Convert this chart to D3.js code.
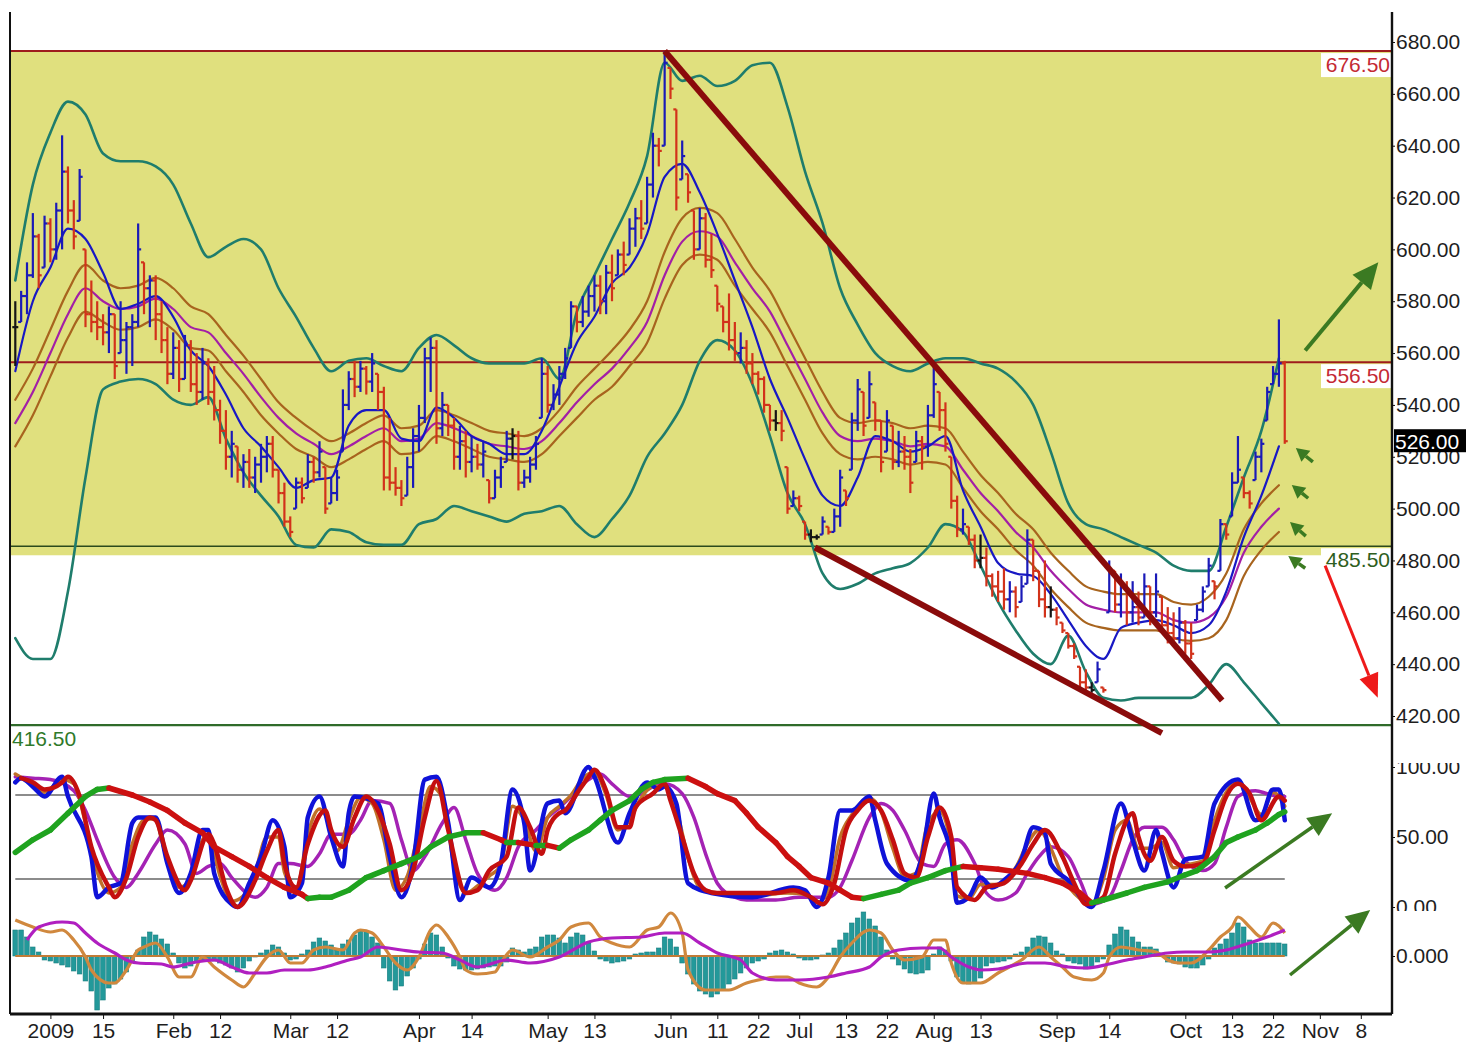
<!DOCTYPE html>
<html>
<head>
<meta charset="utf-8">
<script src="https://cdn.jsdelivr.net/npm/d3@7"></script>
<style>
  body { margin: 0; background: #fff; }
  svg text { font-family: "Liberation Sans", Arial, sans-serif; }
</style>
</head>
<body>
<div id="chart"></div>
<script>
// ---------------- data ----------------
const baseDate = "2009-01-02";          // trading index 0
const firstBarDate = "2008-12-24";
const holidays = ["2009-01-01"];

const barHigh = [
  580,584,595,614,606,613,612,618,644,632,619,631,
  600,588,580,575,578,575,580,572,575,610,595,590,
  590,580,570,568,565,567,565,560,562,558,555,542,
  538,530,524,521,523,520,525,528,528,515,510,497,
  512,512,521,520,526,516,512,515,546,553,557,557,
  555,560,552,547,535,516,511,520,531,540,562,566,
  565,545,540,535,532,530,528,525,526,511,515,520,
  530,531,530,515,520,528,558,555,548,555,562,580,
  578,582,586,590,590,594,598,600,603,612,616,619,
  628,645,643,676.5,670,654,642,629,615,616,614,606,
  586,578,583,572,568,565,560,553,551,540,538,538,
  516,507,505,495,492,490,497,493,500,515,507,537,
  550,545,553,541,534,538,532,530,528,523,530,528,
  540,556,545,541,520,505,500,493,490,490,485,475,
  476,477,472,470,474,492,488,476,480,470,462,456,
  452,448,439,438,433,441,431,480,476,475,472,472,
  468,475,470,475,466,462,460,462,457,456,463,470,
  481,472,496,494,514,528,512,507,522,527,547,555,
  573,557];
const barLow = [
  555,572,575,589,585,593,595,596,600,610,600,611,
  570,568,565,563,560,550,560,552,555,570,575,570,
  565,560,548,550,545,550,545,540,542,540,534,525,
  515,512,510,508,508,506,510,514,512,502,493,489,
  500,502,508,510,512,498,502,503,522,538,543,545,
  544,545,538,507,507,505,501,505,508,522,533,545,
  525,528,528,515,515,512,514,515,512,502,504,508,
  518,519,507,508,510,515,535,537,538,540,550,562,
  568,570,574,576,575,575,580,590,590,598,601,604,
  610,620,632,640,658,615,627,618,596,600,593,589,
  576,568,561,557,556,552,548,544,537,530,530,526,
  498,501,499,488,487,488,490,490,491,493,501,515,
  530,528,535,530,514,522,515,516,515,506,518,515,
  520,535,530,522,500,489,490,486,477,477,470,466,
  464,461,460,458,464,471,472,462,458,458,455,452,
  446,442,431,430,429,433,429,460,460,458,455,456,
  455,458,455,458,452,448,447,448,444,442,457,460,
  470,465,476,488,497,510,504,500,511,514,534,548,
  547,525];
const barClose = [
  570,582,590,605,590,610,600,615,630,615,605,628,
  575,572,570,568,575,555,565,570,572,600,585,588,
  575,565,552,562,550,563,548,545,556,545,538,530,
  520,525,515,518,512,517,520,525,515,506,495,491,
  510,504,518,514,522,500,506,512,540,550,547,554,
  549,556,545,512,510,508,504,516,528,535,558,562,
  531,540,532,520,526,518,520,517,522,504,512,516,
  527,528,510,512,517,525,552,540,544,552,558,578,
  572,576,582,586,580,591,585,598,594,608,612,608,
  625,640,638,672,662,620,636,622,600,612,596,592,
  579,572,565,560,562,556,552,550,540,534,533,530,
  500,504,501,490,489,489,495,491,497,512,504,534,
  546,532,548,534,518,534,518,522,520,510,526,524,
  536,548,538,525,503,492,494,488,480,481,474,470,
  468,465,468,462,470,488,476,465,462,461,458,453,
  447,443,433,431,430,438,430,476,463,470,460,462,
  458,470,460,468,455,452,450,456,448,444,461,468,
  478,470,494,490,510,515,506,502,520,525,545,552,
  556,526];

// overlay lines, one value every 3 trading days from lineStartDate
const lineStartDate = "2008-12-24";
const lineStep = 3;
const maFast = [553,580,593,608,604,591,577,579,582,574,561,555,544,531,524,516,508,511,512,532,
  538,538,527,526,539,535,528,525,521,521,530,547,564,574,587,593,606,628,633,622,
  606,588,570,550,535,519,505,501,512,528,526,522,524,528,507,493,479,475,474,467,
  457,447,442,454,456,457,455,452,455,468,489,505,524];
const maMid = [533,545,560,575,585,580,577,578,581,577,570,568,560,552,543,535,529,525,521,524,
  528,531,526,527,533,531,528,525,524,523,526,533,541,548,554,562,572,590,603,607,
  605,595,585,576,563,550,537,528,526,527,526,524,525,524,515,506,499,491,485,476,
  469,463,461,460,460,460,457,456,458,466,483,493,500];
const envUpper = [542,554,569,584,594,588,585,586,589,585,578,575,567,559,550,541,535,530,526,529,
  533,536,531,532,538,536,533,530,529,528,531,538,547,554,561,569,580,599,612,616,
  614,604,593,584,571,558,545,535,533,534,533,531,532,531,522,513,506,498,492,483,
  476,470,468,467,467,467,464,463,466,475,492,502,509];
const envLower = [524,536,551,566,576,572,569,570,573,569,562,561,553,545,536,529,523,520,516,519,
  523,526,521,522,528,526,523,520,519,518,521,528,535,542,547,555,564,581,594,598,
  596,586,577,568,555,542,529,521,519,520,519,517,518,517,508,499,492,484,478,469,
  462,456,454,453,453,453,450,449,450,457,474,484,491];
const bollUpper = [588,625,645,657,652,637,634,634,632,625,610,597,601,604,600,585,574,562,553,557,
  558,555,553,562,567,563,558,556,556,556,558,550,576,590,604,618,636,672,665,667,
  663,665,671,672,655,630,610,585,571,560,555,553,556,558,558,556,554,549,540,522,
  502,494,492,489,486,483,478,476,476,493,512,530,558];
const bollLower = [450,442,442,468,512,546,549,550,548,542,540,543,527,514,505,497,486,485,492,491,
  487,486,486,494,496,501,499,497,495,498,499,501,494,489,496,505,520,529,540,557,
  565,561,548,528,506,494,475,469,471,475,477,479,485,494,491,478,464,453,444,440,
  451,437,427,426,427,427,427,427,432,440,433,425,417];

// stochastic panel: [trading index, value]
const stochBlue = [[-6,89],[-5,92],[-3,86],[-1,79],[2,93],[3,79],[7,36],[8,7],[10,14],[12,17],[14,60],[15,64],
  [18,64],[20,31],[22,10],[24,24],[26,55],[27,55],[28,24],[31,2],[32,0],[34,17],[36,36],[38,62],[40,43],[41,7],
  [43,17],[44,64],[46,79],[48,50],[50,29],[51,67],[52,79],[56,74],[58,36],[60,7],[62,31],[64,91],[66,93],[68,60],
  [70,5],[72,21],[75,14],[77,31],[79,84],[81,60],[82,26],[85,74],[87,76],[88,67],[92,100],[93,93],[97,46],[99,67],
  [102,89],[104,84],[105,86],[107,74],[109,17],[113,10],[120,7],[127,14],[129,12],[131,0],[133,21],[135,69],
  [137,69],[140,79],[141,62],[143,31],[147,19],[149,36],[151,81],[152,64],[154,36],[155,3],[157,7],[159,21],
  [161,14],[163,19],[166,34],[168,57],[170,53],[171,31],[174,19],[178,0],[180,26],[183,74],[185,48],[187,26],
  [189,55],[190,39],[192,14],[194,34],[197,36],[199,74],[203,91],[206,62],[207,64],[209,84],[210,84],[211,62]];
const stochBrown = [[-6,95],[-4,90],[-1,82],[2,91],[4,88],[6,60],[8,25],[10,10],[12,14],[14,45],[16,62],[18,63],
  [19,48],[22,14],[24,20],[26,48],[27,52],[29,22],[31,4],[33,8],[35,25],[37,50],[39,50],[40,25],[42,12],[44,52],
  [46,70],[48,55],[49,40],[51,62],[53,78],[55,74],[57,48],[59,12],[61,22],[63,55],[65,86],[67,78],[69,30],[71,10],
  [73,15],[75,22],[77,30],[79,72],[81,62],[83,40],[85,64],[87,72],[89,80],[91,92],[93,96],[95,80],[97,55],[99,62],
  [101,78],[103,86],[105,86],[107,70],[109,35],[111,14],[114,10],[120,8],[126,10],[129,9],[131,3],[133,12],
  [135,50],[137,66],[140,78],[142,68],[144,42],[146,22],[148,24],[150,60],[152,68],[154,42],[155,8],[157,6],
  [159,16],[162,16],[165,28],[167,45],[169,55],[171,42],[173,22],[176,6],[178,2],[180,20],[182,55],[184,62],
  [186,42],[188,42],[190,46],[192,28],[194,30],[197,33],[199,62],[201,82],[203,90],[205,78],[207,66],[209,82],[211,72]];
const stochRed = [[-5,92],[-3,89],[-1,84],[2,89],[3,93],[5,79],[7,43],[10,14],[11,7],[13,21],[15,50],[17,64],
  [18,62],[20,36],[23,12],[24,19],[27,52],[28,45],[30,14],[32,0],[35,19],[37,40],[39,55],[40,31],[42,14],[44,45],
  [47,69],[48,55],[50,43],[52,64],[54,79],[56,69],[58,45],[60,12],[62,26],[64,64],[66,90],[68,55],[71,10],[73,12],
  [75,26],[78,36],[80,71],[82,57],[84,38],[85,55],[87,67],[88,69],[90,81],[92,93],[93,98],[95,83],[97,57],[99,57],
  [100,71],[103,81],[105,88],[106,76],[108,50],[110,24],[112,12],[114,10],[119,10],[124,10],[127,12],[130,7],
  [132,2],[134,17],[136,55],[138,69],[140,76],[142,69],[144,48],[146,24],[148,21],[150,50],[152,71],[154,50],
  [155,14],[158,5],[160,14],[163,17],[166,31],[168,45],[170,55],[173,36],[175,17],[177,2],[180,7],[182,38],
  [185,67],[186,50],[188,33],[190,50],[192,33],[194,29],[197,31],[199,55],[201,79],[203,88],[205,81],[207,62],
  [210,79],[211,76]];
const stochPurple = [[-6,93],[-3,92],[0,91],[4,83],[6,69],[8,48],[11,21],[13,14],[15,24],[18,45],[20,55],[23,45],
  [25,24],[27,29],[29,31],[31,21],[35,7],[37,14],[39,31],[41,31],[44,29],[46,38],[48,52],[51,52],[53,62],[55,76],
  [58,74],[60,48],[62,26],[64,36],[67,60],[69,71],[71,48],[73,24],[76,12],[78,21],[80,43],[83,55],[85,64],[87,71],
  [89,79],[92,91],[94,95],[96,88],[99,79],[101,81],[103,86],[105,88],[108,81],[110,64],[112,38],[114,17],[117,7],
  [119,5],[124,5],[128,7],[133,7],[135,14],[137,33],[140,64],[142,74],[144,69],[146,55],[149,31],[151,29],[153,45],
  [155,48],[158,31],[160,10],[162,5],[165,10],[167,24],[169,36],[171,43],[174,36],[176,19],[178,2],[181,7],
  [183,26],[185,48],[187,57],[190,57],[192,48],[194,33],[197,26],[199,31],[201,57],[203,79],[206,83],[208,81],
  [210,79],[211,79]];
const stochSlow = [[-6,39],[-3,48],[0,55],[3,67],[6,79],[8,84],[10,85],[14,80],[17,75],[20,69],[23,60],[26,53],
  [28,43],[31,36],[34,29],[37,21],[40,14],[43,9],[44,6],[46,7],[48,7],[51,12],[54,21],[57,26],[60,31],[63,36],
  [65,43],[68,50],[71,53],[74,53],[77,48],[78,46],[80,46],[83,44],[85,44],[87,42],[89,48],[92,55],[94,62],[96,69],
  [99,76],[101,84],[103,89],[105,91],[109,92],[112,86],[114,81],[117,76],[119,67],[121,57],[124,46],[126,36],
  [128,29],[130,21],[133,17],[135,12],[137,7],[139,6],[142,9],[145,12],[147,17],[150,21],[153,26],[156,29],
  [159,28],[162,27],[167,24],[170,21],[173,17],[176,10],[178,3],[180,5],[184,10],[187,14],[191,18],[194,23],
  [196,26],[199,36],[201,46],[203,50],[206,55],[208,60],[210,66],[211,68]];
const stochBands = [20, 80];

// MACD panel
const macdHist = [
  2.6,2.6,1.9,0.9,0.4,-0.4,-0.5,-0.7,-0.9,-1.1,-1.5,-1.8,
  -2.5,-3.5,-5.4,-4.4,-3.2,-2.8,-2.3,-1.6,-0.6,0.6,1.9,2.4,
  2.1,1.7,1.2,0.3,-0.7,-1.2,-1.0,-0.6,-0.4,-0.4,-0.5,-0.7,
  -0.9,-1.2,-1.6,-1.2,-0.5,-0.1,0.3,0.6,1.1,0.9,0.3,-0.4,
  -0.3,0.2,0.6,1.4,1.8,1.5,1.1,0.6,1.2,1.6,2.1,2.6,
  2.5,1.9,1.3,-1.2,-2.5,-3.4,-3.0,-2.0,-1.2,-0.3,1.2,2.3,
  2.1,0.9,-0.2,-1.0,-1.3,-1.4,-1.4,-1.3,-1.2,-1.1,-1.0,-1.0,
  -0.6,0.8,0.6,0.4,0.7,0.9,1.9,2.1,2.1,1.8,1.3,1.9,
  2.3,2.1,1.3,0.5,-0.3,-0.5,-0.7,-0.6,-0.5,-0.3,0.2,0.3,
  0.4,0.4,0.8,1.9,1.7,0.9,-0.7,-1.8,-2.8,-3.5,-3.8,-4.1,
  -3.8,-3.4,-2.8,-2.3,-1.7,-1.2,-0.7,-0.5,-0.3,0.3,0.5,0.6,
  0.4,0.2,-0.2,-0.4,-0.4,-0.3,0.1,0.3,0.8,1.6,2.3,3.3,
  3.8,4.4,3.7,3.0,1.9,0.6,-0.3,-0.9,-1.3,-1.7,-1.8,-1.7,
  -1.4,0.2,0.9,0.6,-0.5,-2.1,-2.7,-2.8,-2.6,-2.2,-1.0,-0.7,
  -0.6,-0.5,-0.3,0.2,0.4,0.9,1.8,2.0,1.9,1.3,0.5,0.2,
  -0.5,-0.7,-0.8,-1.3,-1.2,-0.6,-0.3,1.1,2.2,2.9,2.6,1.9,
  1.4,0.9,0.9,0.7,0.3,-0.6,-0.7,-0.8,-1.1,-1.2,-1.2,-0.9,
  -0.3,0.8,1.2,1.7,2.3,3.3,2.9,1.6,1.3,1.3,1.3,1.3,
  1.3,1.2];
const macdLine = [[-6,3.6],[-3,2.9],[0,2.4],[2,2.6],[4,1.6],[6,-0.1],[7,-1.4],[10,-2.7],[11,-2.7],[13,-1.4],
  [15,0.6],[16,0.9],[18,1.3],[20,-0.1],[22,-2.1],[24,-2.1],[26,-0.1],[28,-1.1],[31,-2.4],[33,-3.1],[35,-1.7],
  [37,-0.1],[39,0.6],[41,-0.7],[43,-0.7],[45,0.6],[47,0.9],[50,0.6],[52,2.3],[53,2.6],[55,2.3],[57,0.9],[59,-0.7],
  [61,-1.4],[63,-0.1],[65,2.6],[66,3.1],[68,1.9],[70,-0.1],[71,-1.4],[73,-1.8],[76,-1.6],[77,-0.7],[79,0.6],
  [82,-0.1],[85,0.9],[87,1.6],[89,2.9],[92,3.3],[94,1.9],[96,1.3],[99,0.9],[102,2.6],[104,2.9],[106,4.3],[108,2.3],
  [109,-1.4],[112,-3.4],[116,-3.4],[119,-2.7],[121,-2.4],[124,-2.1],[126,-2.1],[128,-2.7],[131,-3.1],[133,-2.1],
  [135,-0.1],[137,1.3],[140,2.6],[142,2.3],[144,0.6],[146,-0.4],[149,-0.1],[151,1.6],[153,1.6],[154,-0.7],
  [156,-2.7],[159,-2.7],[162,-1.7],[166,-0.4],[169,0.9],[171,-0.1],[173,-1.1],[175,-2.1],[178,-2.4],[180,-1.7],
  [181,-0.1],[183,0.9],[186,0.6],[189,0.4],[191,-0.4],[193,-0.7],[195,-0.7],[198,0.6],[200,1.9],[202,2.9],
  [203,3.9],[205,2.9],[207,1.9],[209,3.3],[210,3.0],[211,2.3]];
const macdSignal = [[-4,1.6],[-2,2.9],[2,3.4],[4,3.3],[6,2.3],[8,1.3],[11,0.3],[13,-0.4],[15,-0.7],[19,-0.8],
  [21,-1.1],[24,-0.7],[28,-0.4],[31,-1.1],[34,-1.7],[37,-1.7],[40,-1.4],[44,-1.4],[47,-1.1],[51,-0.4],[53,-0.1],
  [56,0.9],[60,0.6],[63,0.4],[67,0.3],[70,-0.4],[73,-1.1],[78,-0.4],[82,-0.7],[87,-0.1],[92,1.4],[96,1.8],
  [101,1.9],[105,2.3],[108,2.3],[111,1.3],[114,0.3],[118,-0.4],[120,-1.7],[124,-2.4],[128,-2.4],[133,-2.1],
  [136,-1.7],[140,-1.1],[142,-0.1],[145,0.6],[149,0.8],[152,0.8],[154,-0.1],[157,-1.1],[159,-1.4],[162,-1.3],
  [167,-0.7],[170,-0.7],[174,-1.1],[177,-1.2],[181,-0.8],[184,-0.4],[187,-0.1],[191,0.3],[194,0.4],[198,0.4],
  [201,0.6],[205,1.3],[208,1.9],[211,2.6]];

// axes, levels and annotations
const priceTicks = [420,440,460,480,500,520,540,560,580,600,620,640,660,680];
const stochTicks = [0, 50, 100];
const macdTicks = [0];
const dateTicks = [
  ["2009-01-02","2009"],["2009-01-15","15"],["2009-02-02","Feb"],["2009-02-12","12"],
  ["2009-03-02","Mar"],["2009-03-12","12"],["2009-04-01","Apr"],["2009-04-14","14"],
  ["2009-05-01","May"],["2009-05-13","13"],["2009-06-01","Jun"],["2009-06-11","11"],
  ["2009-06-22","22"],["2009-07-01","Jul"],["2009-07-13","13"],["2009-07-22","22"],
  ["2009-08-03","Aug"],["2009-08-13","13"],["2009-09-01","Sep"],["2009-09-14","14"],
  ["2009-10-01","Oct"],["2009-10-13","13"],["2009-10-22","22"],["2009-11-01","Nov"],["2009-11-08","8"]];
const zoneRange = [482, 676.5];
const levelValues = [676.5, 556.5, 485.5, 416.5];
const lastPrice = 526;
const trendLines = [[[105, 676.5], [200.3, 426]], [[130.7, 485], [190, 413.4]]];
const priceArrows = [
  {kind: "big", from: [214.5, 561], to: [227, 595]},
  {kind: "down", from: [217.9, 478], to: [226.9, 427]},
  {kind: "small", from: [215.8, 518], to: [212.9, 523.4]},
  {kind: "small", from: [215.0, 504], to: [212.2, 509.1]},
  {kind: "small", from: [214.6, 489.4], to: [211.9, 494.8]},
  {kind: "small", from: [214.5, 477], to: [211.6, 481.7]}];
const stochArrow = {from: [200.8, 13.6], to: [219.1, 67]};
const macdArrow = {from: [211.9, -1.9], to: [225.6, 4.6]};

// ---------------- helpers ----------------
const DAY = 86400000;
const holidayTimes = new Set(holidays.map(s => Date.parse(s + "T00:00:00Z")));
const isTradingDay = t => {
  const wd = new Date(t).getUTCDay();
  return wd !== 0 && wd !== 6 && !holidayTimes.has(t);
};
function tradingIndex(s) {
  // signed count of trading days between baseDate and s
  const b = Date.parse(baseDate + "T00:00:00Z"), d = Date.parse(s + "T00:00:00Z");
  const lo = Math.min(b, d), hi = Math.max(b, d);
  let n = 0;
  for (let t = lo; t < hi; t += DAY) if (isTradingDay(t)) n++;
  return d < b ? -n : n;
}
function dateOfIndex(n) {
  let t = Date.parse(baseDate + "T00:00:00Z"), k = 0;
  while (k < n) { t += DAY; if (isTradingDay(t)) k++; }
  return t;
}

const W = 1469, H = 1043;
const plotL = 10, plotR = 1392, plotTop = 12, axisY = 1014, priceBottom = 725;

const x = d3.scaleLinear().domain([0, 200]).range([50.4, 1220.4]);
const yP = d3.scaleLinear().domain([420, 680]).range([716, 42]);
const yS = d3.scaleLinear().domain([0, 100]).range([907, 767]);
const yM = d3.scaleLinear().domain([-5, 5]).range([1006, 906]);

const bar0 = tradingIndex(firstBarDate);
const line0 = tradingIndex(lineStartDate);
const bars = barClose.map((c, i) => ({
  i: bar0 + i, h: barHigh[i], l: barLow[i], c: c,
  o: Math.max(barLow[i], Math.min(barHigh[i], i > 0 ? barClose[i - 1] : c)),
  prev: i > 0 ? barClose[i - 1] : c
}));
const onGrid = arr => arr.map((v, k) => [line0 + k * lineStep, v]);
const lastIdx = bars[bars.length - 1].i;
const lastBarTime = dateOfIndex(lastIdx);

// beyond the last bar the axis runs on calendar days
function axisIndex(s) {
  const t = Date.parse(s + "T00:00:00Z");
  return t > lastBarTime ? lastIdx + (t - lastBarTime) / DAY : tradingIndex(s);
}

const svg = d3.select('#chart').append('svg')
  .attr('width', W).attr('height', H)
  .style('background', '#fff');

svg.append('clipPath').attr('id', 'priceClip')
  .append('rect').attr('x', plotL).attr('y', plotTop)
  .attr('width', plotR - plotL).attr('height', priceBottom - plotTop);
svg.append('clipPath').attr('id', 'stochLabelClip')
  .append('rect').attr('x', plotR).attr('y', 763).attr('width', W - plotR).attr('height', 148);

// ---------------- price panel ----------------
const pg = svg.append('g');

pg.append('rect')
  .attr('x', plotL).attr('width', plotR - plotL)
  .attr('y', yP(zoneRange[1])).attr('height', yP(zoneRange[0]) - yP(zoneRange[1]))
  .attr('fill', '#e0e07e');

const levelStyle = [
  {stroke: '#9e1c1c', w: 2, label: '#c42a33', side: 'right'},
  {stroke: '#9e1c1c', w: 2, label: '#c42a33', side: 'right'},
  {stroke: '#2c4a1c', w: 1.6, label: '#2e5e20', side: 'right'},
  {stroke: '#2f6b2a', w: 2.2, label: '#2f7a2a', side: 'left'}];

levelValues.forEach((v, k) => {
  const st = levelStyle[k];
  pg.append('line').attr('x1', plotL).attr('x2', plotR)
    .attr('y1', yP(v)).attr('y2', yP(v))
    .attr('stroke', st.stroke).attr('stroke-width', st.w);
});

const lineIn = (g, pts, color, width, curve) => g.append('path')
  .datum(pts)
  .attr('fill', 'none').attr('stroke', color).attr('stroke-width', width)
  .attr('stroke-linejoin', 'round').attr('stroke-linecap', 'round')
  .attr('d', d3.line().x(d => x(d[0])).y(d => yP(d[1])).curve(curve || d3.curveMonotoneX));

const ov = pg.append('g').attr('clip-path', 'url(#priceClip)');
lineIn(ov, onGrid(bollUpper), '#1f7d6c', 2.6);
lineIn(ov, onGrid(bollLower), '#1f7d6c', 2.6);
lineIn(ov, onGrid(envUpper), '#a8641e', 2.2);
lineIn(ov, onGrid(envLower), '#a8641e', 2.2);
lineIn(ov, onGrid(maMid), '#a31fa6', 2.2);
lineIn(ov, onGrid(maFast), '#1818c4', 2.2);

// OHLC bars
const barColor = d => Math.abs(d.c - d.prev) < 2 ? '#151515' : (d.c > d.prev ? '#1a1ab8' : '#d2321a');
const bg = ov.append('g').selectAll('g').data(bars).join('g')
  .attr('stroke', barColor).attr('stroke-width', 2.2);
bg.append('line').attr('x1', d => x(d.i)).attr('x2', d => x(d.i))
  .attr('y1', d => yP(d.h)).attr('y2', d => yP(d.l));
bg.append('line').attr('x1', d => x(d.i) - 3).attr('x2', d => x(d.i))
  .attr('y1', d => yP(d.o)).attr('y2', d => yP(d.o));
bg.append('line').attr('x1', d => x(d.i)).attr('x2', d => x(d.i) + 3)
  .attr('y1', d => yP(d.c)).attr('y2', d => yP(d.c));

// trend lines
trendLines.forEach(t => {
  pg.append('line')
    .attr('x1', x(t[0][0])).attr('y1', yP(t[0][1]))
    .attr('x2', x(t[1][0])).attr('y2', yP(t[1][1]))
    .attr('stroke', '#8a0b0b').attr('stroke-width', 6);
});

// level labels
levelValues.forEach((v, k) => {
  const st = levelStyle[k];
  if (st.side === 'right') {
    pg.append('rect').attr('x', 1321).attr('y', yP(v) + 2)
      .attr('width', plotR - 1322).attr('height', 24).attr('fill', '#fff');
    pg.append('text').attr('x', plotR - 2).attr('y', yP(v) + 21)
      .attr('text-anchor', 'end').attr('font-size', 21).attr('fill', st.label)
      .text(v.toFixed(2));
  } else {
    pg.append('text').attr('x', plotL + 2).attr('y', yP(v) + 21)
      .attr('font-size', 21).attr('fill', st.label).text(v.toFixed(2));
  }
});

function arrow(g, x1, y1, x2, y2, color, width, headLen, headW) {
  const a = Math.atan2(y2 - y1, x2 - x1);
  const bx = x2 - headLen * Math.cos(a), by = y2 - headLen * Math.sin(a);
  g.append('line').attr('x1', x1).attr('y1', y1).attr('x2', bx).attr('y2', by)
    .attr('stroke', color).attr('stroke-width', width);
  const px = Math.sin(a) * headW / 2, py = -Math.cos(a) * headW / 2;
  g.append('polygon')
    .attr('points', `${x2},${y2} ${bx + px},${by + py} ${bx - px},${by - py}`)
    .attr('fill', color);
}
const arrowStyle = {
  big: ['#3b7a22', 4, 26, 24],
  down: ['#ee1a1a', 3, 24, 20],
  small: ['#3b7a22', 3.5, 13, 14]};
priceArrows.forEach(a => {
  const s = arrowStyle[a.kind];
  arrow(pg, x(a.from[0]), yP(a.from[1]), x(a.to[0]), yP(a.to[1]), s[0], s[1], s[2], s[3]);
});

// ---------------- stochastic panel ----------------
const sg = svg.append('g');
stochBands.forEach(v => {
  sg.append('line').attr('x1', x(bar0)).attr('x2', x(lastIdx))
    .attr('y1', yS(v)).attr('y2', yS(v))
    .attr('stroke', '#8c8c8c').attr('stroke-width', 2);
});
const stochLine = (pts, color, width) => sg.append('path').datum(pts)
  .attr('fill', 'none').attr('stroke', color).attr('stroke-width', width)
  .attr('stroke-linejoin', 'round').attr('stroke-linecap', 'round')
  .attr('d', d3.line().x(d => x(d[0])).y(d => yS(d[1])).curve(d3.curveMonotoneX));
stochLine(stochPurple, '#a422b4', 3.5);
stochLine(stochBrown, '#c07028', 3.5);
stochLine(stochBlue, '#0f12d8', 4.5);
stochLine(stochRed, '#c40f0f', 4.5);
// slow line: green while rising, red while falling
for (let k = 1; k < stochSlow.length; k++) {
  const a = stochSlow[k - 1], b = stochSlow[k];
  sg.append('line')
    .attr('x1', x(a[0])).attr('y1', yS(a[1])).attr('x2', x(b[0])).attr('y2', yS(b[1]))
    .attr('stroke', b[1] >= a[1] ? '#1fa31f' : '#cc1010')
    .attr('stroke-width', 5.5).attr('stroke-linecap', 'round');
}
arrow(sg, x(stochArrow.from[0]), yS(stochArrow.from[1]), x(stochArrow.to[0]), yS(stochArrow.to[1]),
  '#3b7a22', 3.5, 24, 22);

// ---------------- MACD panel ----------------
const mg = svg.append('g');
mg.selectAll('rect').data(bars).join('rect')
  .attr('x', d => x(d.i) - 2.4).attr('width', 4.6)
  .attr('y', (d, i) => yM(Math.max(0, macdHist[i])))
  .attr('height', (d, i) => Math.abs(yM(macdHist[i]) - yM(0)))
  .attr('fill', '#23999a').attr('stroke', '#1a7f80').attr('stroke-width', 0.6);
mg.append('line').attr('x1', x(bar0)).attr('x2', x(lastIdx))
  .attr('y1', yM(0)).attr('y2', yM(0))
  .attr('stroke', '#c27b36').attr('stroke-width', 2);
const macdPath = (pts, color) => mg.append('path').datum(pts)
  .attr('fill', 'none').attr('stroke', color).attr('stroke-width', 3.2)
  .attr('stroke-linejoin', 'round')
  .attr('d', d3.line().x(d => x(d[0])).y(d => yM(d[1])).curve(d3.curveMonotoneX));
macdPath(macdLine, '#d0883e');
macdPath(macdSignal, '#b01fc0');
arrow(mg, x(macdArrow.from[0]), yM(macdArrow.from[1]), x(macdArrow.to[0]), yM(macdArrow.to[1]),
  '#3b7a22', 3.5, 24, 22);

// ---------------- axes ----------------
const ax = svg.append('g');
ax.append('line').attr('x1', plotL).attr('x2', plotL).attr('y1', plotTop).attr('y2', axisY)
  .attr('stroke', '#111').attr('stroke-width', 2);
ax.append('line').attr('x1', plotR).attr('x2', plotR).attr('y1', plotTop).attr('y2', axisY)
  .attr('stroke', '#111').attr('stroke-width', 2.4);
ax.append('line').attr('x1', plotL).attr('x2', plotR).attr('y1', axisY).attr('y2', axisY)
  .attr('stroke', '#111').attr('stroke-width', 3);

function styleAxis(g) {
  g.select('.domain').remove();
  g.selectAll('text').attr('font-size', 21).attr('fill', '#1e1e1e')
    .style('font-family', '"Liberation Sans", Arial, sans-serif');
  g.selectAll('line').attr('stroke', '#111');
}
ax.append('g').attr('transform', `translate(${plotR},0)`)
  .call(d3.axisRight(yP).tickValues(priceTicks).tickFormat(d3.format('.2f')).tickSize(3).tickPadding(1))
  .call(styleAxis);
// stochastic labels are cut by the panel edges, as in the original
ax.append('g').attr('clip-path', 'url(#stochLabelClip)')
  .append('g').attr('transform', `translate(${plotR},0)`)
  .call(d3.axisRight(yS).tickValues(stochTicks).tickFormat(d3.format('.2f')).tickSize(3).tickPadding(1))
  .call(styleAxis);
ax.append('g').attr('transform', `translate(${plotR},0)`)
  .call(d3.axisRight(yM).tickValues(macdTicks).tickFormat(d3.format('.3f')).tickSize(3).tickPadding(1))
  .call(styleAxis);

// last price tag
ax.append('rect').attr('x', plotR + 2).attr('y', yP(lastPrice) - 12)
  .attr('width', 72).attr('height', 23).attr('fill', '#000');
ax.append('text').attr('x', plotR + 3).attr('y', yP(lastPrice) + 8)
  .attr('font-size', 21).attr('fill', '#fff').text(lastPrice.toFixed(2));

// date axis
const tickIdx = dateTicks.map(d => axisIndex(d[0]));
ax.append('g').attr('transform', `translate(0,${axisY})`)
  .call(d3.axisBottom(x).tickValues(tickIdx)
    .tickFormat((d, i) => dateTicks[i][1]).tickSize(5).tickPadding(4))
  .call(styleAxis);
</script>
</body>
</html>
